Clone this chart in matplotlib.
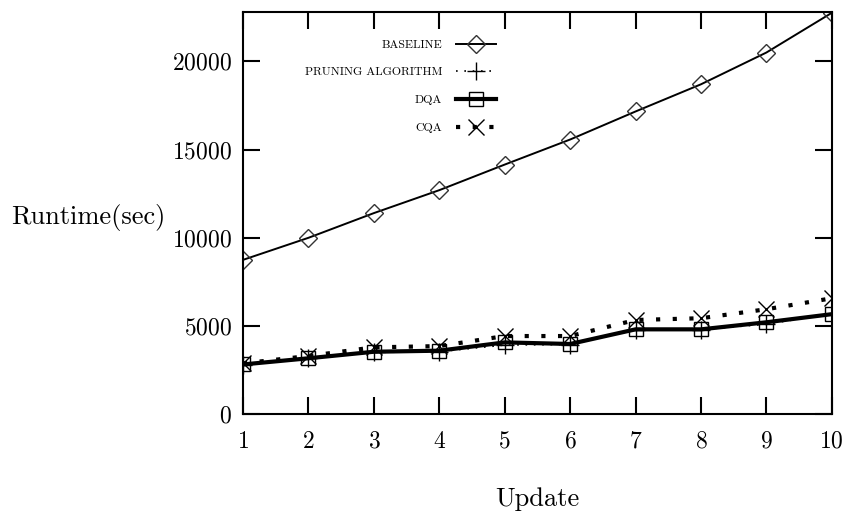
import matplotlib
matplotlib.use("Agg")
import matplotlib.pyplot as plt

updates = [1, 2, 3, 4, 5, 6, 7, 8, 9, 10]
baseline = [8750, 10000, 11400, 12700, 14150, 15570, 17160, 18700, 20500, 22750]
pruning = [2800, 3200, 3500, 3550, 3920, 3950, 4800, 4800, 5100, 5700]
dqa = [2820, 3170, 3540, 3600, 4070, 3980, 4810, 4810, 5210, 5670]
cqa = [2880, 3300, 3790, 3860, 4430, 4430, 5340, 5440, 5950, 6570]
labels = ["BASELINE", "PRUNING ALGORITHM", "DQA", "CQA"]
yticks = [0, 5000, 10000, 15000, 20000]

plt.rcParams['font.family'] = ['cmr10', 'DejaVu Serif']
plt.rcParams['axes.formatter.use_mathtext'] = True

fig = plt.figure(figsize=(8.47, 5.21), dpi=100)
ax = fig.add_axes([0.287, 0.205, 0.695, 0.772])

ax.plot(updates, baseline, color='black', lw=1.4, marker='D', ms=9,
        mfc='none', mec='#333333', mew=1.0, label=labels[0])
ax.plot(updates, pruning, color='black', lw=1.2, ls=(0, (1, 4)), marker='+',
        ms=13, mew=1.0, label=labels[1])
ax.plot(updates, dqa, color='black', lw=3.0, marker='s', ms=10,
        mfc='none', mec='black', mew=1.0, label=labels[2])
ax.plot(updates, cqa, color='black', lw=3.0, ls=(0, (1, 3)), marker='x',
        ms=11, mew=1.0, label=labels[3])

ax.set_xlim(1, 10)
ax.set_ylim(0, 22800)
ax.set_xticks(updates)
ax.set_yticks(yticks)
ax.tick_params(direction='in', length=12, width=1.5, top=True, right=True,
               labelsize=17)
ax.tick_params(axis='x', pad=12)
ax.tick_params(axis='y', pad=8)
for s in ax.spines.values():
    s.set_linewidth(1.5)

ax.set_xlabel("Update", fontsize=19, labelpad=25)
ax.set_ylabel("Runtime(sec)", fontsize=19, rotation=0, ha='center', va='center')
ax.yaxis.set_label_coords(-0.263, 0.49)

leg = ax.legend(loc='upper right', bbox_to_anchor=(0.43, 0.932), frameon=False,
                markerfirst=False, fontsize=8.6, handlelength=3.4,
                labelspacing=1.45, handletextpad=1.1, borderpad=0,
                borderaxespad=0)
for t in leg.get_texts():
    t.set_ha('right')
leg._legend_box.align = 'right'

fig.savefig("out.png", dpi=100)
